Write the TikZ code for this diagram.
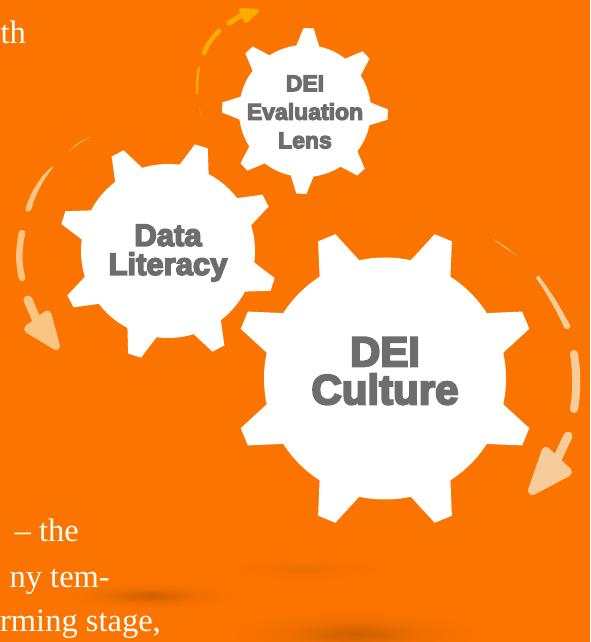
\documentclass[tikz,border=0pt]{standalone}
\usepackage{fontspec}
\setmainfont{Liberation Serif}
\newfontfamily\gearfont[FakeBold=5]{Liberation Sans Bold}
\definecolor{bgorange}{RGB}{251,116,0}
\definecolor{gearlabel}{RGB}{109,109,109}
\definecolor{paleleft}{RGB}{250,196,130}
\definecolor{paleright}{RGB}{246,204,154}
\definecolor{goldarc}{RGB}{255,172,0}
\pgfdeclareradialshading{blob}{\pgfpoint{0bp}{0bp}}{%
  color(0bp)=(black!18!bgorange); color(6bp)=(black!12!bgorange);
  color(14bp)=(black!4!bgorange); color(25bp)=(bgorange); color(50bp)=(bgorange)}
\tikzset{
  gearlabel/.style={text=gearlabel,align=center,font=\gearfont},
  pagetext/.style={text=white,anchor=base east,font=\fontsize{32.5}{32.5}\selectfont,inner sep=0pt},
}
% center, name, hub radius, tip radius, first tooth angle
\newcommand{\gearshape}[5]{
  \coordinate (#2) at (#1);
  \fill[white] (#2) circle (#3);
  \foreach \a in {0,45,...,315}{
    \fill[white] ($(#2)+(#5+\a-10.5:#3-1)$) -- ($(#2)+(#5+\a-3.5:#4)$)
      -- ($(#2)+(#5+\a+3.5:#4)$) -- ($(#2)+(#5+\a+10.5:#3-1)$) -- cycle;
  }
}
\usetikzlibrary{calc}
\begin{document}
\begin{tikzpicture}[x=1pt,y=1pt]
  \useasboundingbox (0,0) rectangle (590,642);
  \fill[bgorange] (0,0) rectangle (590,642);
  % Shadows
  \shade[shading=blob] (150,46) ellipse [x radius=85,y radius=14];
  \shade[shading=blob,opacity=.35] (305,73) ellipse [x radius=75,y radius=11];
  \shade[shading=blob] (355,8) ellipse [x radius=125,y radius=24];
  % Page text
  \node[pagetext] (lineA) at (26,598) {th};
  \node[pagetext] (lineB) at (79,100) {– the};
  \node[pagetext] (lineC) at (110,54) {ny tem-};
  \node[pagetext] (lineD) at (161,10) {rming stage,};
  % Gears
  \gearshape{385,263.5}{big}{121}{152.6}{22.5}
  \gearshape{168,391}{mid}{87}{110}{27.3}
  \gearshape{305,531}{small}{66}{83}{-2.5}
  % Labels
  \node[gearlabel,font=\gearfont\fontsize{42}{38}\selectfont] (cultureLabel) at (385,271) {DEI\\Culture};
  \node[gearlabel,font=\gearfont\fontsize{31}{29}\selectfont] (literacyLabel) at (168,389) {Data\\Literacy};
  \node[gearlabel,font=\gearfont\fontsize{23}{28.5}\selectfont] (lensLabel) at (305,530) {DEI\\Evaluation\\Lens};
  % Left arc
  \fill[paleleft] (68,489.5) .. controls (75,496) .. (90,505) .. controls (76,498) .. (68,489.5);
  \fill[paleleft,draw=paleleft,line width=.8,line join=round] (53,475) .. controls (43,463) and (35,448) .. (31,433)
    .. controls (30,430) and (25.5,430) .. (26,433.5) .. controls (31,450) and (40,464) .. (50.5,473.5) -- cycle;
  \draw[paleleft,line width=6.5,line cap=round] (22,409) .. controls (18.5,393) and (18.5,378) .. (22,364);
  \draw[paleleft,line width=9,line cap=round] (28,342) -- (38,319);
  \fill[paleleft,draw=paleleft,line width=8,line join=round] (47.5,327.5) -- (56,296) -- (28,313) -- cycle;
  % Right arc
  \fill[paleright] (493,403) .. controls (502,398) .. (518,385.5) .. controls (504,395) .. (493,403);
  \fill[paleright,draw=paleright,line width=.8,line join=round] (538.5,366) .. controls (550,351) and (561,333) .. (570,316)
    .. controls (570,312.5) and (564,312.5) .. (564,316) .. controls (556,333) and (547,349) .. (536.5,364) -- cycle;
  \draw[paleright,line width=8,line cap=round] (574,288) .. controls (577,270) and (577,250) .. (574,233);
  \draw[paleright,line width=9,line cap=round] (568,206) -- (553,174);
  \fill[paleright,draw=paleright,line width=9,line join=round] (546,190.5) -- (532.5,151.5) -- (567.5,170) -- cycle;
  % Top arc
  \fill[goldarc] (199,535) .. controls (200,530) .. (203,523) .. controls (201,530) .. (199,535);
  \draw[goldarc,line width=2.4,line cap=round] (199,574) .. controls (197,565) and (197,556) .. (197,549);
  \draw[goldarc,line width=4.5,line cap=round] (219,611) .. controls (212,604) and (207,597) .. (204,589);
  \draw[goldarc,line width=5,line cap=round] (229,619) -- (242,627);
  \fill[goldarc,draw=goldarc,line width=4,line join=round] (241,632) -- (257,631) -- (246,621) -- cycle;
\end{tikzpicture}
\end{document}
